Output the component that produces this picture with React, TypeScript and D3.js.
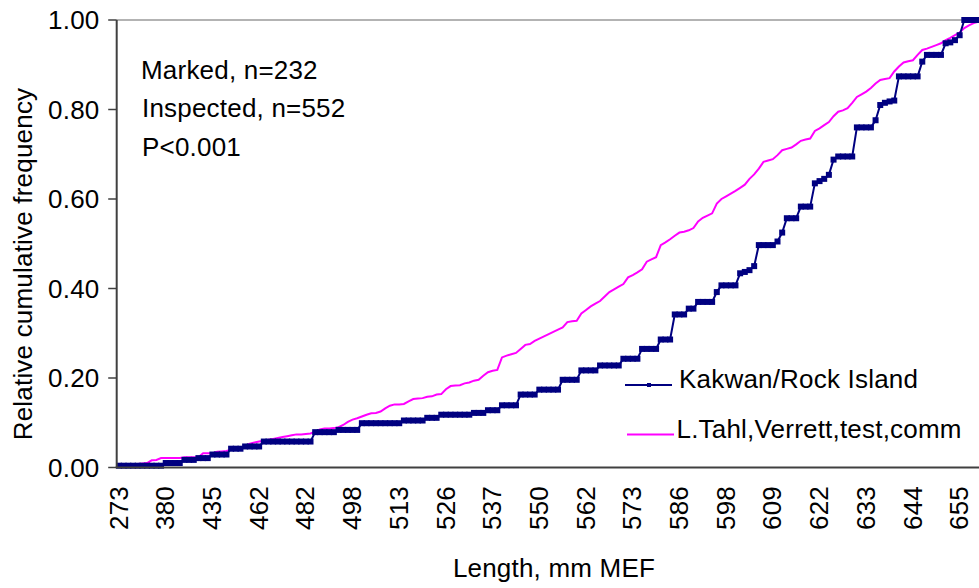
import React from "react";
import * as d3 from "d3";

// ---- data ----
const tickLabels = ["273","380","435","462","482","498","513","526","537","550","562","573","586","598","609","622","633","644","655"];
const tickEvery = 10;
const nCategories = 185;

const kakwan = [
  0.004,0.004,0.004,0.004,0.004,0.004,0.004,0.004,0.004,0.004,
  0.010,0.010,0.010,0.010,
  0.017,0.017,0.017,
  0.021,0.021,0.021,
  0.029,0.029,0.029,0.029,
  0.042,0.042,0.042,
  0.047,0.047,0.047,0.047,
  0.058,0.058,0.058,0.058,0.058,0.058,0.058,0.058,0.058,0.058,0.058,
  0.079,0.079,0.079,0.079,0.079,
  0.084,0.084,0.084,0.084,0.084,
  0.099,0.099,0.099,0.099,0.099,0.099,0.099,0.099,0.099,
  0.105,0.105,0.105,0.105,0.105,
  0.111,0.111,0.111,
  0.118,0.118,0.118,0.118,0.118,0.118,0.118,
  0.122,0.122,0.122,
  0.128,0.128,0.128,
  0.139,0.139,0.139,0.139,
  0.163,0.163,0.163,0.163,
  0.174,0.174,0.174,0.174,0.174,
  0.196,0.196,0.196,0.196,
  0.217,0.217,0.217,0.217,
  0.228,0.228,0.228,0.228,0.228,
  0.243,0.243,0.243,0.243,
  0.265,0.265,0.265,0.265,
  0.286,0.286,0.286,
  0.342,0.342,0.342,
  0.355,0.355,
  0.370,0.370,0.370,0.370,
  0.392,
  0.407,0.407,0.407,0.407,
  0.434,0.437,0.441,
  0.450,
  0.497,0.497,0.497,0.497,
  0.505,
  0.525,
  0.557,0.557,0.557,
  0.583,0.583,0.583,
  0.635,0.640,0.645,0.654,
  0.688,0.695,0.695,0.695,0.695,
  0.760,0.760,0.760,0.760,
  0.776,
  0.810,0.815,0.818,0.820,
  0.874,0.874,0.874,0.874,0.874,
  0.907,
  0.922,0.922,0.922,0.922,
  0.948,
  0.950,0.955,
  0.966,
  1.000,1.000,1.000,1.000,
];

const tahl = [
  0.002,0.002,0.002,0.004,
  0.008,0.009,0.010,
  0.016,0.017,
  0.021,0.021,0.021,0.021,0.021,
  0.023,0.023,0.023,0.023,
  0.032,0.032,0.032,
  0.035,0.036,0.037,0.040,0.042,0.045,0.048,
  0.053,0.056,0.058,0.060,0.062,0.064,0.066,0.068,
  0.070,0.072,0.074,0.074,0.075,0.076,0.080,
  0.085,0.087,0.087,0.088,0.090,0.095,
  0.102,0.107,0.110,0.114,
  0.118,0.121,0.122,0.125,
  0.132,0.138,0.141,0.141,0.142,
  0.148,0.153,0.154,0.155,
  0.158,0.159,0.163,0.164,
  0.175,0.182,0.183,0.184,
  0.188,0.190,0.194,0.196,
  0.205,0.213,0.216,0.218,
  0.246,0.250,0.253,0.256,
  0.265,0.274,0.276,
  0.283,0.288,0.293,
  0.298,0.303,0.308,0.313,
  0.325,0.327,0.328,0.344,
  0.352,0.360,0.366,0.372,0.382,
  0.392,0.398,0.404,0.410,
  0.425,0.430,0.436,0.443,
  0.460,0.465,0.470,
  0.497,0.503,0.510,
  0.518,0.525,0.527,0.530,0.535,
  0.550,0.558,0.563,0.568,
  0.590,0.600,0.606,0.612,
  0.618,0.625,0.632,0.645,0.655,
  0.668,0.683,0.686,0.689,
  0.698,0.709,0.712,0.715,0.722,
  0.730,0.733,0.735,
  0.752,0.758,0.765,0.772,
  0.785,0.795,0.798,0.803,
  0.815,0.828,0.834,
  0.840,0.848,0.858,
  0.866,0.868,0.870,
  0.885,0.896,
  0.905,0.908,0.910,
  0.922,0.933,0.936,
  0.940,0.944,0.948,
  0.955,0.960,0.966,
  0.972,0.982,0.988,0.993,0.996,
];

const yTicks = [0, 0.2, 0.4, 0.6, 0.8, 1.0];

const seriesNames = ["Kakwan/Rock Island", "L.Tahl,Verrett,test,comm"];
const annotations = ["Marked, n=232", "Inspected, n=552", "P<0.001"];

// ---- layout ----
const W = 979;
const H = 588;
const left = 116.7;
const bandW = 4.67;
const top = 20;
const bottom = 467.5;
const FONT = "'Liberation Sans', Arial, Helvetica, sans-serif";
const FS = 26;
const LS = 0.2;
const MS = 6;

export default function App() {
  const idx = d3.range(nCategories);
  const x = d3.scaleBand<number>().domain(idx).range([left, left + nCategories * bandW]).paddingInner(0).paddingOuter(0);
  const cx = (i: number) => (x(i) as number) + x.bandwidth() / 2;
  const y = d3.scaleLinear().domain([0, 1]).range([bottom, top]);

  const line = d3.line<number>().x((_, i) => cx(i)).y((d) => y(d));

  const tickIdx = tickLabels.map((_, k) => k * tickEvery);

  const textStyle = { fontFamily: FONT, fontSize: FS, letterSpacing: LS, fill: "#000" } as React.CSSProperties;

  return (
    <div style={{ position: "absolute", left: 0, top: 0 }}>
      <svg width={W} height={H} viewBox={`0 0 ${W} ${H}`} style={{ display: "block", background: "#fff" }}>
        <rect x={0} y={0} width={W} height={H} fill="#fff" />
        {/* plot top border */}
        <line x1={left} x2={W} y1={top} y2={top} stroke="#9a9a9a" strokeWidth={1.5} />

        {/* series */}
        <path d={line(tahl) || ""} fill="none" stroke="#FF00FF" strokeWidth={2} />
        <path d={line(kakwan) || ""} fill="none" stroke="#000080" strokeWidth={2} />
        {kakwan.map((v, i) => (
          <rect key={i} x={cx(i) - MS / 2} y={y(v) - MS / 2} width={MS} height={MS} fill="#000080" />
        ))}

        {/* y axis */}
        <line x1={left} x2={left} y1={top} y2={bottom} stroke="#404040" strokeWidth={2} />
        {yTicks.map((t) => (
          <g key={t}>
            <line x1={left - 8.5} x2={left} y1={y(t)} y2={y(t)} stroke="#404040" strokeWidth={1.5} />
            <text x={99.5} y={y(t)} dy="0.35em" textAnchor="end" style={textStyle}>
              {t.toFixed(2)}
            </text>
          </g>
        ))}

        {/* x axis */}
        <line x1={left - 1} x2={W} y1={bottom} y2={bottom} stroke="#404040" strokeWidth={2} />
        {tickIdx.map((i, k) => (
          <text
            key={i}
            transform={`translate(${cx(i) - 0.5},486) rotate(-90)`}
            dy="0.35em"
            textAnchor="end"
            style={textStyle}
          >
            {tickLabels[k]}
          </text>
        ))}

        {/* axis titles */}
        <text x={554} y={577} textAnchor="middle" style={textStyle}>
          Length, mm MEF
        </text>
        <text transform={`translate(32,264) rotate(-90)`} textAnchor="middle" style={textStyle}>
          Relative cumulative frequency
        </text>

        {/* annotations */}
        <text x={141} y={79} style={textStyle}>{annotations[0]}</text>
        <text x={142} y={116.7} style={textStyle}>{annotations[1]}</text>
        <text x={142} y={156} style={textStyle}>{annotations[2]}</text>

        {/* legend */}
        <line x1={625} x2={672} y1={385} y2={385} stroke="#000080" strokeWidth={2} />
        <rect x={647} y={383} width={4} height={4} fill="#000080" />
        <text x={679} y={388} style={textStyle}>{seriesNames[0]}</text>
        <line x1={627} x2={674} y1={434.5} y2={434.5} stroke="#FF00FF" strokeWidth={2} />
        <text x={676.5} y={438.3} style={textStyle}>{seriesNames[1]}</text>
      </svg>
    </div>
  );
}
